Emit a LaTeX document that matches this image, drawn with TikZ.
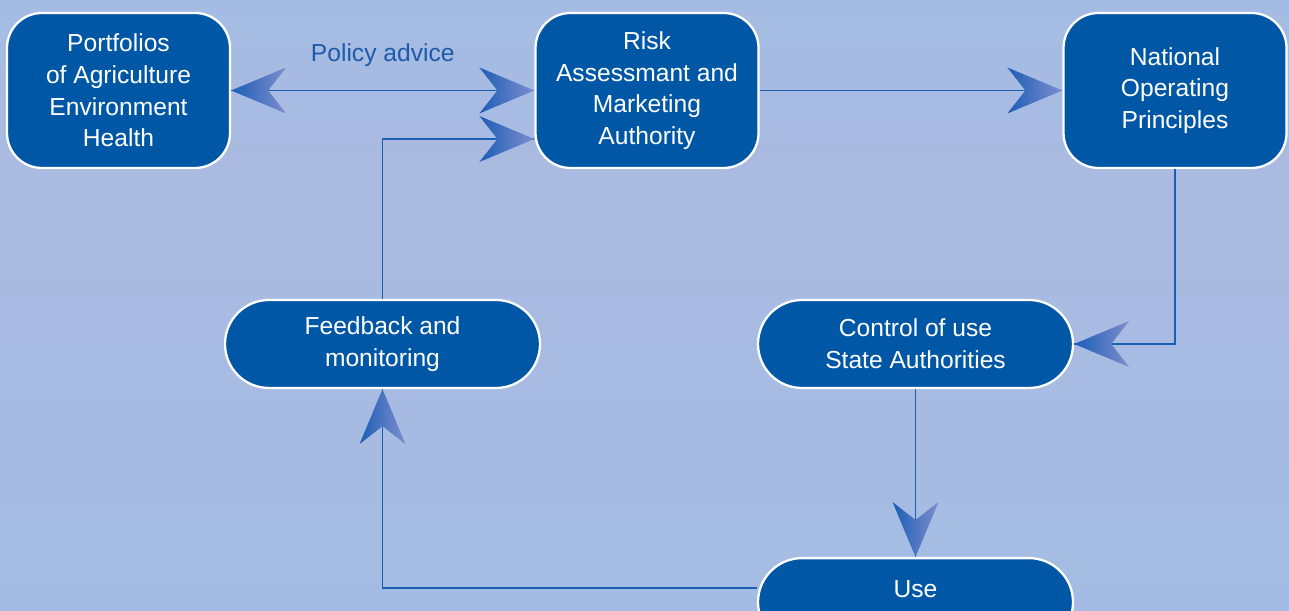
\documentclass[tikz,border=0pt]{standalone}
\usepackage{fontspec}
\setmainfont{Liberation Sans}
\usepackage{tikz}
\usetikzlibrary{shapes,positioning}
\definecolor{pmbox}{RGB}{0,87,166}
\definecolor{pmline}{RGB}{28,94,182}
\definecolor{pmtext}{RGB}{30,90,172}
\definecolor{pmsky}{RGB}{164,188,227}
\definecolor{pmhaze}{RGB}{171,186,225}
\definecolor{pmheadlight}{RGB}{125,142,205}
\tikzstyle{link} = [color=pmline, line width=0.8pt]
\tikzstyle{authority} = [rectangle, rounded corners=0.7cm, minimum width=4.46cm, minimum height=3.1cm, align=center, draw=white, fill=pmbox, line width=1.3pt, text=white, font=\fontsize{14}{18}\selectfont]
\tikzstyle{pill} = [rounded rectangle, minimum width=6.3cm, minimum height=1.76cm, inner sep=0pt, align=center, draw=white, fill=pmbox, line width=1.3pt, text=white, font=\fontsize{14}{18}\selectfont]
\tikzset{tiphead/.pic={\shade[left color=pmline, right color=pmheadlight] (0,0) -- (-1.1,0.46) -- (-0.74,0) -- (-1.1,-0.46) -- cycle;}}

\begin{document}
\begin{tikzpicture}
\useasboundingbox (0,0) rectangle (25.78,12.22);
% sky
\shade[top color=pmsky, bottom color=pmhaze] (0,8.42) rectangle (25.78,12.22);
\shade[top color=pmhaze, bottom color=pmsky] (0,0) rectangle (25.78,8.42);

% upper row
\node (port) [authority] at (2.37,10.41) {Portfolios\\of Agriculture\\Environment\\Health};
\node (risk) [authority, right of=port, node distance=10.57cm] {Risk\\Assessmant and\\Marketing\\Authority};
\node (natl) [authority, right of=risk, node distance=10.56cm] {National\\Operating\\Principles};

% lower row
\node (feed) [pill] at (7.65,5.34) {Feedback and\\monitoring};
\node (ctrl) [pill, right of=feed, node distance=10.66cm] {Control of use\\State Authorities};
\node (use) [pill, anchor=north, text height=0.78cm, text depth=0.98cm] at (18.31,1.08) {Use};

\coordinate (riskin) at ([yshift=-0.97cm]risk.west);
\coordinate (useout) at ([yshift=0.28cm]use.west);

\draw[link] (port) -- (risk) node[midway, above=0.35cm, text=pmtext, font=\fontsize{14}{18}\selectfont] {Policy advice};
\draw[link] (feed.north) |- (riskin);
\draw[link] (risk) -- (natl);
\draw[link] (natl.south) |- (ctrl.east);
\draw[link] (ctrl.south) -- (ctrl.south |- use.north);
\draw[link] (useout) -| (feed.south);

\pic[rotate=180] at (port.east) {tiphead};
\pic at (risk.west) {tiphead};
\pic at (riskin) {tiphead};
\pic at (natl.west) {tiphead};
\pic[rotate=180] at (ctrl.east) {tiphead};
\pic[rotate=-90] at (ctrl.south |- use.north) {tiphead};
\pic[rotate=90] at (feed.south) {tiphead};
\end{tikzpicture}
\end{document}
